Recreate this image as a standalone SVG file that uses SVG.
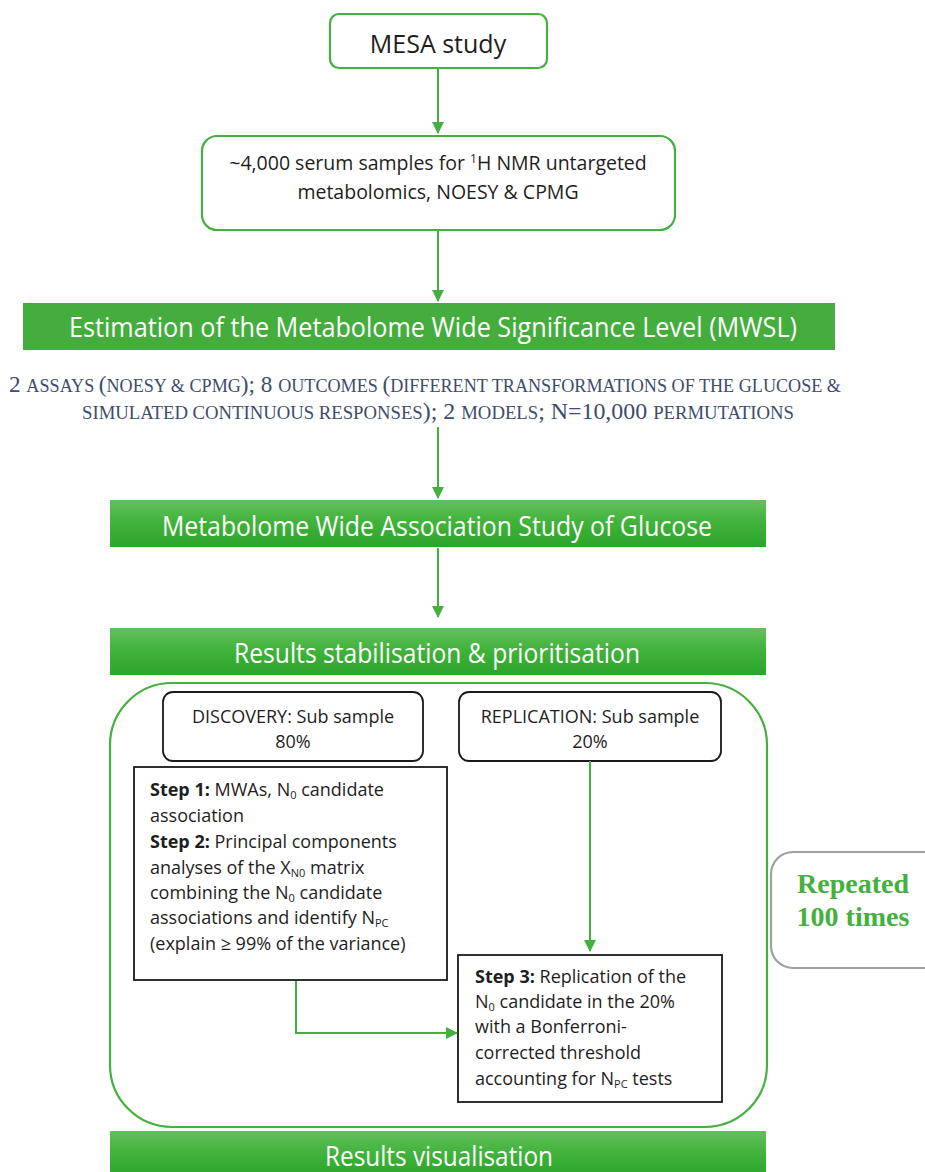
<svg xmlns="http://www.w3.org/2000/svg" width="925" height="1172" viewBox="0 0 925 1172">
<defs>
<linearGradient id="barGrad" x1="0" y1="0" x2="0" y2="1">
<stop offset="0" stop-color="#63bf5d"/>
<stop offset="0.5" stop-color="#3fb239"/>
<stop offset="1" stop-color="#2ba42a"/>
</linearGradient>
<marker id="arrow" markerUnits="userSpaceOnUse" markerWidth="13" markerHeight="13" refX="11" refY="6" orient="auto">
<path d="M0,0 L12,6 L0,12 z" fill="#45b03f"/>
</marker>
<style>
.gbox{fill:#fff;stroke:#45b03f;stroke-width:2.2}
.kbox{fill:#fff;stroke:#1a1a1a;stroke-width:1.8}
.bar{fill:url(#barGrad)}
.bartxt{font-family:"Open Sans","Noto Sans",sans-serif;fill:#fff;font-size:27px;text-anchor:middle}
.txt{font-family:"Open Sans","Noto Sans",sans-serif;fill:#1e1e1e}
.c{text-anchor:middle}
.sc{font-family:"Liberation Serif","Times New Roman",serif;fill:#3d4c6c}
.big{font-size:23px}
.sm{font-size:18px}
.sub{font-size:11px}
.conn{fill:none;stroke:#45b03f;stroke-width:2;marker-end:url(#arrow)}
.rep{font-family:"Liberation Serif","Times New Roman",serif;font-weight:bold;font-size:28px;fill:#45b03f;text-anchor:middle}
</style>
</defs>
<rect width="925" height="1172" fill="#fff"/>

<g id="mesa">
<rect class="gbox" x="330" y="14" width="217" height="54" rx="9"/>
<text class="txt c" x="438" y="53" font-size="25">MESA study</text>
</g>

<g id="serum">
<rect class="gbox" x="202" y="136" width="473" height="94" rx="15"/>
<text class="txt c" x="438" y="170" font-size="19.5">~4,000 serum samples for <tspan font-size="12" dy="-7">1</tspan><tspan dy="7">H NMR untargeted</tspan></text>
<text class="txt c" x="438" y="199" font-size="19.5">metabolomics, NOESY &amp; CPMG</text>
</g>

<g id="mwsl">
<rect x="23" y="303" width="812" height="47" fill="#44ad3d"/>
<text class="bartxt" x="433" y="337" textLength="728" lengthAdjust="spacingAndGlyphs">Estimation of the Metabolome Wide Significance Level (MWSL)</text>
</g>

<g id="mwsl-details">
<text class="sc" x="9" y="392" textLength="832" lengthAdjust="spacingAndGlyphs"><tspan class="big">2 </tspan><tspan class="sm">ASSAYS </tspan><tspan class="big">(</tspan><tspan class="sm">NOESY &amp; CPMG</tspan><tspan class="big">); 8 </tspan><tspan class="sm">OUTCOMES </tspan><tspan class="big">(</tspan><tspan class="sm">DIFFERENT TRANSFORMATIONS OF THE GLUCOSE &amp;</tspan></text>
<text class="sc" x="82" y="419" textLength="712" lengthAdjust="spacingAndGlyphs"><tspan class="sm">SIMULATED CONTINUOUS RESPONSES</tspan><tspan class="big">); 2 </tspan><tspan class="sm">MODELS</tspan><tspan class="big">; N=10,000 </tspan><tspan class="sm">PERMUTATIONS</tspan></text>
</g>

<g id="mwas">
<rect class="bar" x="110" y="500" width="656" height="47"/>
<text class="bartxt" x="437" y="536" textLength="550" lengthAdjust="spacingAndGlyphs">Metabolome Wide Association Study of Glucose</text>
</g>

<g id="stabilisation">
<rect class="bar" x="110" y="628" width="656" height="47"/>
<text class="bartxt" x="437" y="663" textLength="406" lengthAdjust="spacingAndGlyphs">Results stabilisation &amp; prioritisation</text>
</g>

<g id="repeat-container">
<rect class="gbox" x="110" y="683" width="657" height="444" rx="62"/>
</g>

<g id="discovery">
<rect class="kbox" x="163" y="692" width="260" height="69" rx="10"/>
<text class="txt c" x="293" y="723" font-size="18">DISCOVERY: Sub sample</text>
<text class="txt c" x="293" y="748" font-size="18">80%</text>
</g>

<g id="replication">
<rect class="kbox" x="459" y="692" width="262" height="69" rx="10"/>
<text class="txt c" x="590" y="723" font-size="18">REPLICATION: Sub sample</text>
<text class="txt c" x="590" y="748" font-size="18">20%</text>
</g>

<g id="steps12">
<rect class="kbox" x="134" y="767" width="313" height="213"/>
<g class="txt" font-size="18">
<text x="150" y="796"><tspan font-weight="bold">Step 1:</tspan> MWAs, N<tspan class="sub" dy="2.5">0</tspan><tspan dy="-2.5"> candidate</tspan></text>
<text x="150" y="822">association</text>
<text x="150" y="848"><tspan font-weight="bold">Step 2:</tspan> Principal components</text>
<text x="150" y="874">analyses of the X<tspan class="sub" dy="2.5">N0</tspan><tspan dy="-2.5"> matrix</tspan></text>
<text x="150" y="899">combining the N<tspan class="sub" dy="2.5">0</tspan><tspan dy="-2.5"> candidate</tspan></text>
<text x="150" y="924">associations and identify N<tspan class="sub" dy="2.5">PC</tspan></text>
<text x="150" y="950">(explain ≥ 99% of the variance)</text>
</g>
</g>

<g id="step3">
<rect class="kbox" x="458" y="955" width="264" height="147"/>
<g class="txt" font-size="18">
<text x="475" y="983"><tspan font-weight="bold">Step 3:</tspan> Replication of the</text>
<text x="475" y="1008">N<tspan class="sub" dy="2.5">0</tspan><tspan dy="-2.5"> candidate in the 20%</tspan></text>
<text x="475" y="1033">with a Bonferroni-</text>
<text x="475" y="1059">corrected threshold</text>
<text x="475" y="1085">accounting for N<tspan class="sub" dy="2.5">PC</tspan><tspan dy="-2.5"> tests</tspan></text>
</g>
</g>

<g id="repeated">
<rect x="771" y="852" width="180" height="116" rx="22" fill="#fff" stroke="#a0a0a0" stroke-width="2.2"/>
<text class="rep" x="853" y="893">Repeated</text>
<text class="rep" x="853" y="926">100 times</text>
</g>

<g id="visualisation">
<rect class="bar" x="110" y="1131" width="656" height="47"/>
<text class="bartxt" x="439" y="1166" textLength="228" lengthAdjust="spacingAndGlyphs">Results visualisation</text>
</g>

<g id="connectors">
<path class="conn" d="M438 68 V133"/>
<path class="conn" d="M438 230 V301"/>
<path class="conn" d="M438 427 V498"/>
<path class="conn" d="M438 548 V617"/>
<path class="conn" d="M590 761 V951"/>
<path class="conn" d="M296 981 V1033 H457"/>
</g>
</svg>
